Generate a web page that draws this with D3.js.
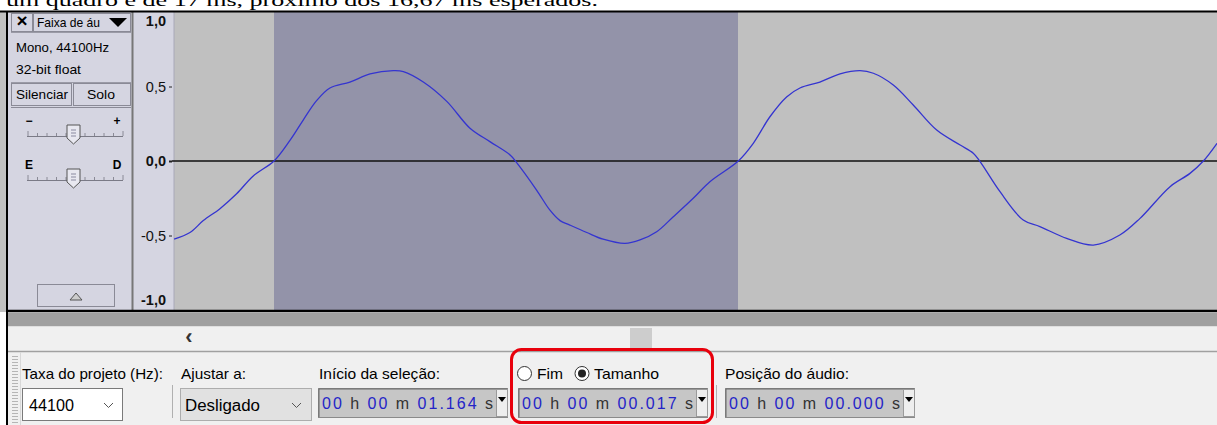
<!DOCTYPE html>
<html><head><meta charset="utf-8">
<script src="https://cdn.jsdelivr.net/npm/d3@7"></script>
<style>body{margin:0;background:#fff;overflow:hidden}svg{display:block}</style>
</head><body><svg id="c" width="1217" height="425"></svg>
<script>
// ---- data ----
const selectionStartMs = 1164;
const selectionLengthMs = 17;
const viewStartOffsetMs = -3.664;
const viewEndOffsetMs = 34.55;
const timeOffsetMs = [-3.66,-3.08,-2.59,-1.98,-1.37,-0.76,0,0.59,1.07,1.56,2.05,2.78,3.52,4.37,4.74,5.47,6.33,7.18,7.91,8.65,8.89,9.62,10.11,10.48,10.84,11.46,12.06,12.86,13.41,14.02,14.63,15.36,15.97,17.01,17.56,18.17,18.78,19.27,20.0,20.74,21.47,21.96,22.69,23.42,24.28,25.14,25.62,25.87,26.6,27.45,28.06,29.04,30.02,30.99,31.73,32.83,33.56,34.05,34.55];
const amplitude = [-0.525,-0.48,-0.40,-0.32,-0.22,-0.10,0,0.14,0.275,0.405,0.49,0.53,0.584,0.606,0.60,0.53,0.40,0.22,0.13,0.04,-0.011,-0.195,-0.33,-0.40,-0.43,-0.48,-0.525,-0.553,-0.53,-0.475,-0.374,-0.25,-0.139,0,0.119,0.297,0.43,0.49,0.53,0.584,0.606,0.589,0.51,0.376,0.208,0.107,0.052,-0.004,-0.206,-0.396,-0.44,-0.519,-0.564,-0.497,-0.385,-0.172,-0.083,0,0.119];
const yTickValues = [1, 0.5, 0, -0.5, -1];
const yTickLabels = ["1,0", "0,5", "0,0", "-0,5", "-1,0"];
const captionText = "um quadro é de 17 ms, próximo dos 16,67 ms esperados.";
const trackTitle = "Faixa de áu";
const trackInfo = ["Mono, 44100Hz", "32-bit float"];
const trackButtons = ["Silenciar", "Solo"];
const toolbarLabels = ["Taxa do projeto (Hz):", "Ajustar a:", "Início da seleção:", "Fim", "Tamanho", "Posição do áudio:"];
const projectRate = "44100";
const snapTo = "Desligado";
const timeFields = [["00","h","00","m","01.164","s"],["00","h","00","m","00.017","s"],["00","h","00","m","00.000","s"]];

// ---- drawing ----
const svg = d3.select("#c");
const SANS = "'Liberation Sans', Arial, sans-serif";
function txt(x, y, s, o = {}) {
  const t = svg.append("text").attr("x", x).attr("y", y).text(s)
    .attr("font-family", o.family || SANS).attr("font-size", o.size || 13)
    .attr("fill", o.fill || "#000");
  if (o.weight) t.attr("font-weight", o.weight);
  if (o.anchor) t.attr("text-anchor", o.anchor);
  if (o.w) t.attr("textLength", o.w).attr("lengthAdjust", "spacingAndGlyphs");
  return t;
}
function rect(x, y, w, h, fill, stroke, sw) {
  return svg.append("rect").attr("x", x).attr("y", y).attr("width", w).attr("height", h)
    .attr("fill", fill || "none").attr("stroke", stroke || "none").attr("stroke-width", sw || 1);
}
function line(x1, y1, x2, y2, c, w) {
  return svg.append("line").attr("x1", x1).attr("y1", y1).attr("x2", x2).attr("y2", y2)
    .attr("stroke", c).attr("stroke-width", w || 1);
}

// caption (clipped at top, as in the reference)
txt(6, 5.5, captionText, {family: "'Liberation Serif','Times New Roman',serif", size: 16, w: 592});

// waveform area
const x = d3.scaleLinear()
  .domain([selectionStartMs + viewStartOffsetMs, selectionStartMs + viewEndOffsetMs])
  .range([174, 1217]);
const y = d3.scaleLinear().domain([-1, 1]).range([310, 12]);

rect(0, 11, 1217, 301, "#c0c0c0");
rect(x(selectionStartMs), 12, x(selectionStartMs + selectionLengthMs) - x(selectionStartMs), 298, "#9393a9");

// left panel + ruler
rect(7, 11, 127, 301, "#d5d5e1");
rect(134, 12, 40, 298, "#d5d5e1");
line(132.5, 12, 132.5, 310, "#777", 2);
line(174, 12, 174, 310, "#a8a8b8", 1);

// frame
line(0, 11.5, 1217, 11.5, "#000", 2);
line(7, 11, 7, 425, "#000", 2);

// track panel contents
rect(11.5, 13.5, 21, 18, "#d5d5e1", "#8a8a96");
txt(22, 27, "×", {size: 19, anchor: "middle", weight: "bold"});
rect(33.5, 13.5, 97, 18, "#d5d5e1", "#8a8a96");
txt(37, 27, trackTitle, {size: 13, w: 63});
svg.append("path").attr("d", "M109,18 L127,18 L118,27 Z").attr("fill", "#000");
line(11, 32.5, 131, 32.5, "#9a9aa6");
txt(16, 52, trackInfo[0], {size: 13.5, w: 93});
txt(16, 74, trackInfo[1], {size: 13.5, w: 65});
line(11, 82.5, 131, 82.5, "#9a9aa6");
rect(11.5, 83.5, 60, 22, "#d5d5e1", "#8a8a96");
rect(73.5, 83.5, 57, 22, "#d5d5e1", "#8a8a96");
txt(16, 99, trackButtons[0], {size: 13.5, w: 52});
txt(87, 99, trackButtons[1], {size: 13.5, w: 28});
line(11, 107.5, 131, 107.5, "#8a8a96");

function slider(cy, left, right) {
  txt(29, cy - 11, left, {size: 12, anchor: "middle", weight: "bold"});
  txt(117, cy - 11, right, {size: 12, anchor: "middle", weight: "bold"});
  line(27, cy + 0.5, 123, cy + 0.5, "#7a7a86");
  for (let k = 0; k <= 10; k++) {
    const xx = 28 + k * 9.5;
    line(xx, cy - (k % 5 === 0 ? 5 : 3), xx, cy, "#8a8a96");
  }
  svg.append("path")
    .attr("d", `M67,${cy - 11} L80,${cy - 11} L80,${cy + 2} L73.5,${cy + 8} L67,${cy + 2} Z`)
    .attr("fill", "#e8e8f0").attr("stroke", "#555").attr("stroke-width", 1);
  for (let k = 0; k < 3; k++) line(71, cy - 6 + k * 3, 76, cy - 6 + k * 3, "#8a8aa0");
}
slider(136, "−", "+");
slider(180, "E", "D");

rect(37.5, 284.5, 77, 22, "#d5d5e1", "#8a8a96");
svg.append("path").attr("d", "M70,300 L82,300 L76,293 Z").attr("fill", "#ccc").attr("stroke", "#555");

// ruler axis
const axis = d3.axisLeft(y).tickValues(yTickValues).tickSize(3).tickPadding(3)
  .tickFormat((d, i) => yTickLabels[i]);
const ag = svg.append("g").attr("transform", "translate(172,0)").call(axis);
ag.select(".domain").remove();
ag.selectAll(".tick text").attr("font-family", SANS).attr("font-size", 14.5).attr("fill", "#111")
  .attr("font-weight", d => (d === 0 || Math.abs(d) === 1) ? "bold" : "normal")
  .attr("dy", d => d === 1 ? "0.95em" : d === -1 ? "-0.4em" : "0.32em");
ag.selectAll(".tick line").attr("stroke", d => Math.abs(d) === 1 ? "none" : "#222")
  .attr("stroke-width", d => d === 0 ? 2 : 1);

// zero line and waveform
line(172, y(0), 1217, y(0), "#111", 1.6);
const lineGen = d3.line().x((d, i) => x(selectionStartMs + timeOffsetMs[i])).y(d => y(d))
  .curve(d3.curveCatmullRom.alpha(0.5));
svg.append("path").attr("d", lineGen(amplitude)).attr("fill", "none")
  .attr("stroke", "#3434d0").attr("stroke-width", 1.3);

// bottom of track
line(7, 311, 1217, 311, "#000", 2.5);
rect(8, 312.5, 1209, 14, "#a0a0a0");
rect(8, 326.5, 1209, 99, "#f0f0f0");
line(7, 311, 7, 425, "#000", 2);
txt(189, 344, "‹", {size: 22, anchor: "middle", weight: "bold", fill: "#333"});
rect(630, 328, 22, 21, "#cdcdcd");
line(8, 351.5, 1217, 351.5, "#a0a0a0", 1.5);

// toolbar grip
for (let yy = 356; yy < 425; yy += 3) line(12, yy + 0.5, 18, yy + 0.5, "#b5b5b5");
line(20.5, 352, 20.5, 425, "#d8d8d8");

// combos and separators
rect(22.5, 388.5, 100, 32, "#fff", "#7a7a7a");
svg.append("path").attr("d", "M104,403 L108.5,407.5 L113,403").attr("fill", "none").attr("stroke", "#555");
line(172.5, 385, 172.5, 418, "#b0b0b0");
rect(180.5, 388.5, 131, 32, "#e1e1e1", "#adadad");
svg.append("path").attr("d", "M292,403 L296.5,407.5 L301,403").attr("fill", "none").attr("stroke", "#555");
line(716.5, 385, 716.5, 418, "#b0b0b0");

// toolbar labels
const LBL = {size: 15};
txt(22, 379, toolbarLabels[0], {...LBL, w: 141});
txt(181, 379, toolbarLabels[1], {...LBL, w: 65});
txt(319, 379, toolbarLabels[2], {...LBL, w: 121});
svg.append("circle").attr("cx", 524.5).attr("cy", 373.5).attr("r", 7).attr("fill", "#fff").attr("stroke", "#333");
txt(537, 379, toolbarLabels[3], {...LBL, w: 26});
svg.append("circle").attr("cx", 582).attr("cy", 373.5).attr("r", 7).attr("fill", "#fff").attr("stroke", "#333");
svg.append("circle").attr("cx", 582).attr("cy", 373.5).attr("r", 4).attr("fill", "#222");
txt(594, 379, toolbarLabels[4], {...LBL, w: 65});
txt(725, 379, toolbarLabels[5], {...LBL, w: 124});
txt(29, 411, projectRate, {size: 16, w: 45});
txt(185, 411, snapTo, {size: 16, w: 75});

// time text controls
const boxes = [318, 518, 725];
timeFields.forEach((f, i) => {
  const bx = boxes[i];
  rect(bx + 0.5, 388.5, 189, 29, "#c6c6c6", "#8a8a8a");
  line(bx + 1, 389, bx + 189, 389, "#6a6a6a");
  line(bx + 1, 389, bx + 1, 417, "#6a6a6a");
  rect(bx + 178.5, 389.5, 11, 27, "#eeeeee", "#9a9a9a");
  svg.append("path").attr("d", `M${bx + 180},397 L${bx + 188},397 L${bx + 184},402 Z`).attr("fill", "#000");
  const t = svg.append("text").attr("x", bx + 4).attr("y", 409).attr("font-family", SANS).attr("font-size", 16)
    .attr("textLength", 171).attr("lengthAdjust", "spacing");
  const s = [f[0], " ", f[1], " ", f[2], " ", f[3], " ", f[4], " ", f[5]];
  s.forEach(p => {
    const isNum = /[0-9.]/.test(p);
    t.append("tspan").attr("fill", isNum ? "#2424c8" : "#333").text(p);
  });
});

// highlight
svg.append("rect").attr("x", 511.5).attr("y", 349.5).attr("width", 201).attr("height", 73).attr("rx", 10)
  .attr("fill", "none").attr("stroke", "#e8000c").attr("stroke-width", 3);
</script></body></html>
